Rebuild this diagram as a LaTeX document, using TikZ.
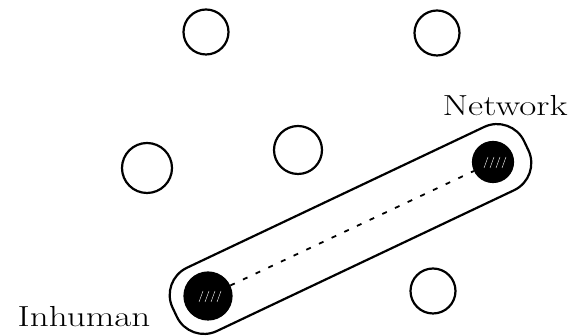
\documentclass[tikz,border=0pt]{standalone}
\usepackage{fontspec}
\setmainfont{Latin Modern Roman}
\newfontfamily\handfont[FakeStretch=1.28]{Latin Modern Roman}
\usetikzlibrary{positioning}

\newcommand*{\picw}{581}
\newcommand*{\pich}{336}

\begin{document}
\begin{tikzpicture}
[
	emptypt/.style={circle,draw,line width=2.2pt,inner sep=0pt,minimum size=45pt},
	fullpt/.style={circle,draw,fill,line width=2.2pt,inner sep=0pt,minimum size=42pt},
	handtext/.style={font=\handfont\fontsize{29}{32}\selectfont,inner sep=0pt},
	x=1pt,y=1pt
]

	\useasboundingbox (0,0) rectangle (\picw,\pich);

	% empty nodes
	\node[emptypt] (tl) at (206,304) {};
	\node[emptypt] (tr) at (437,303) {};
	\node[emptypt,minimum size=50pt] (ml) at (147,168) {};
	\node[emptypt,minimum size=48pt] (mc) at (298,186) {};
	\node[emptypt] (br) at (433,45) {};

	% the tie
	\node[fullpt,minimum width=47pt] (inh) at (208,40) {};
	\node[fullpt,minimum size=40pt] (net) at (493,174) {};
	\foreach \n in {inh,net}
		\foreach \a in {-9,-3,3,9}
			\draw[white,line width=0.4pt] ([shift={(\a,-6)}]\n.center) -- ++(4,11);
	\draw[line width=1.8pt,dash pattern=on 5pt off 9pt] (inh) -- (net);
	\node[draw,line width=2.2pt,rounded corners=30pt,rotate=25.35,
		minimum width=389pt,minimum height=70pt] (tie) at (350.5,107) {};

	\node[handtext] (inhl) at (84,19) {Inhuman};
	\node[handtext] (netl) at (505,230) {Network};

\end{tikzpicture}
\end{document}
